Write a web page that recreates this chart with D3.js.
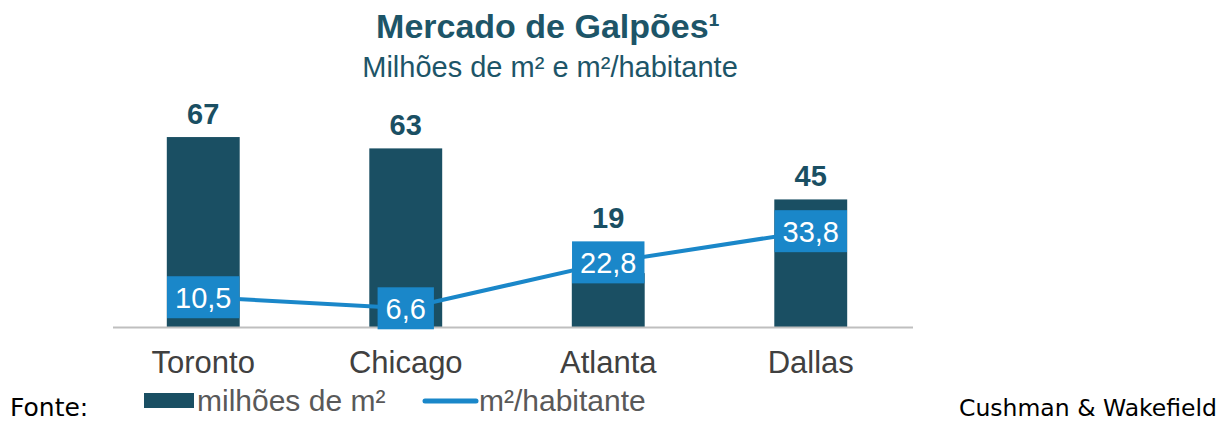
<!DOCTYPE html>
<html>
<head>
<meta charset="utf-8">
<script src="https://cdn.jsdelivr.net/npm/d3@7"></script>
<style>
  body { margin: 0; background: #fff; }
  svg { display: block; }
</style>
</head>
<body>
<svg id="chart" width="1221" height="423"></svg>
<script>
// data
const cities = ["Toronto", "Chicago", "Atlanta", "Dallas"];
const areaMillions = [67, 63, 19, 45];          // milhões de m²
const perCapita = [10.5, 6.6, 22.8, 33.8];      // m²/habitante
const perCapitaLabels = ["10,5", "6,6", "22,8", "33,8"];

const barColor = "#1a4f63";
const lineColor = "#1a87c9";
const titleColor = "#1d5568";
const boxHalf = 21;

const svg = d3.select("#chart");

// scales - bars and line share the same vertical scale
const x = d3.scaleBand().domain(cities).range([102, 912]).paddingInner(0.64).paddingOuter(0.32);
const y = d3.scaleLinear().domain([0, 70]).range([327, 327 - 70 * 2.835]);

// title
svg.append("text")
    .attr("x", 548).attr("y", 38)
    .attr("text-anchor", "middle")
    .attr("font-family", "Liberation Sans, Arial, sans-serif")
    .attr("font-weight", "bold")
    .attr("font-size", 34)
    .attr("fill", titleColor)
    .text("Mercado de Galpões¹");

svg.append("text")
    .attr("x", 550).attr("y", 77)
    .attr("text-anchor", "middle")
    .attr("font-family", "Liberation Sans, Arial, sans-serif")
    .attr("font-size", 29)
    .attr("fill", titleColor)
    .text("Milhões de m² e m²/habitante");

// bars
svg.selectAll("rect.bar")
    .data(areaMillions)
    .join("rect")
    .attr("class", "bar")
    .attr("x", (d, i) => x(cities[i]))
    .attr("width", x.bandwidth())
    .attr("y", d => y(d))
    .attr("height", d => y(0) - y(d))
    .attr("fill", barColor);

// bar value labels - sit above the bar, or above the line box when it covers the bar top
svg.selectAll("text.val")
    .data(areaMillions)
    .join("text")
    .attr("class", "val")
    .attr("x", (d, i) => x(cities[i]) + x.bandwidth() / 2)
    .attr("y", (d, i) => Math.min(y(d), y(perCapita[i]) - boxHalf) - 13)
    .attr("text-anchor", "middle")
    .attr("font-family", "Liberation Sans, Arial, sans-serif")
    .attr("font-weight", "bold")
    .attr("font-size", 29)
    .attr("fill", barColor)
    .text(d => d);

// x axis baseline
const axis = svg.append("g").attr("transform", `translate(0,${y(0)})`)
    .call(d3.axisBottom(x).tickSize(0).tickPadding(24));
axis.select(".domain").attr("d", "M113,0.5H913").attr("stroke", "#bfbfbf").attr("stroke-width", 2);
axis.selectAll(".tick text")
    .attr("font-family", "Liberation Sans, Arial, sans-serif")
    .attr("font-size", 31)
    .attr("fill", "#404040")
    .attr("dy", "0.71em");

// per capita line
const cx = (d, i) => x(cities[i]) + x.bandwidth() / 2;
const line = d3.line().x(cx).y(d => y(d));
svg.append("path")
    .datum(perCapita)
    .attr("d", line)
    .attr("fill", "none")
    .attr("stroke", lineColor)
    .attr("stroke-width", 4);

// label boxes on the line
const boxes = svg.selectAll("g.box")
    .data(perCapita)
    .join("g")
    .attr("class", "box")
    .attr("transform", (d, i) => `translate(${cx(d, i)},${y(d)})`);

boxes.append("text")
    .attr("text-anchor", "middle")
    .attr("dy", "0.36em")
    .attr("font-family", "Liberation Sans, Arial, sans-serif")
    .attr("font-size", 29)
    .attr("fill", "#fff")
    .text((d, i) => perCapitaLabels[i]);

boxes.each(function() {
    const g = d3.select(this);
    const w = g.select("text").node().getComputedTextLength() + 16;
    g.insert("rect", "text")
        .attr("x", -w / 2).attr("y", -boxHalf)
        .attr("width", w).attr("height", boxHalf * 2)
        .attr("fill", lineColor);
});

// legend
const legend = svg.append("g").attr("font-family", "Liberation Sans, Arial, sans-serif")
    .attr("font-size", 30).attr("fill", "#595959");
legend.append("rect").attr("x", 144).attr("y", 393).attr("width", 50).attr("height", 15).attr("fill", barColor);
legend.append("text").attr("x", 197).attr("y", 411).text("milhões de m²");
legend.append("line").attr("x1", 425).attr("x2", 476).attr("y1", 401).attr("y2", 401)
    .attr("stroke", lineColor).attr("stroke-width", 5).attr("stroke-linecap", "round");
legend.append("text").attr("x", 479).attr("y", 411).text("m²/habitante");

// source
svg.append("text")
    .attr("x", 10).attr("y", 416)
    .attr("font-family", "DejaVu Sans, sans-serif")
    .attr("font-size", 25)
    .attr("fill", "#000")
    .text("Fonte:");
svg.append("text")
    .attr("x", 1217).attr("y", 416)
    .attr("text-anchor", "end")
    .attr("font-family", "DejaVu Sans, sans-serif")
    .attr("font-size", 23.5)
    .attr("fill", "#000")
    .text("Cushman & Wakefield");
</script>
</body>
</html>
